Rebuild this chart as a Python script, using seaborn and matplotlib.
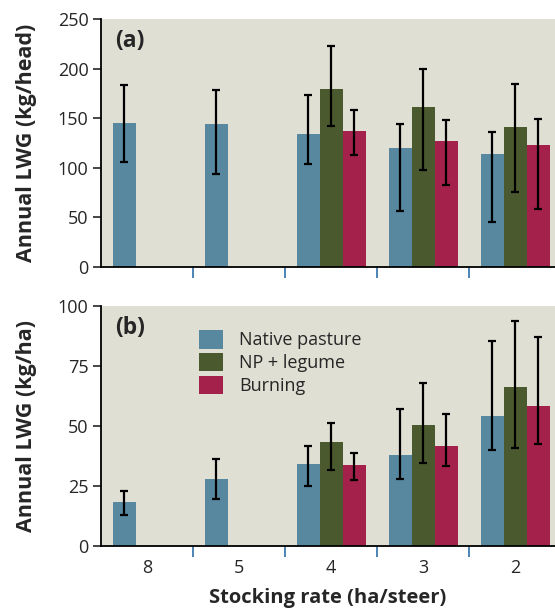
import matplotlib
matplotlib.use("Agg")
import matplotlib.pyplot as plt
import seaborn as sns
import numpy as np
import pandas as pd

sns.set_style("ticks")
plt.rcParams["font.family"] = ["Open Sans", "DejaVu Sans"]

# stocking rates (ha/steer) and treatments
rates = ["8", "5", "4", "3", "2"]
treatments = ["Native pasture", "NP + legume", "Burning"]
colors = ["#5788A0", "#4A5A2E", "#A3214B"]

# (a) annual LWG per head, with error bar low / high ends
head_native = [145, 144, 134, 120, 114]
head_native_lo = [106, 94, 104, 56, 45]
head_native_hi = [183, 178, 173, 144, 136]
head_legume = [np.nan, np.nan, 179, 161, 141]
head_legume_lo = [np.nan, np.nan, 142, 98, 76]
head_legume_hi = [np.nan, np.nan, 223, 200, 184]
head_burn = [np.nan, np.nan, 137, 127, 123]
head_burn_lo = [np.nan, np.nan, 113, 83, 58]
head_burn_hi = [np.nan, np.nan, 158, 148, 149]

# (b) annual LWG per hectare
ha_native = [18.3, 28, 34.2, 38, 54.2]
ha_native_lo = [12.9, 19.7, 25.1, 28, 40]
ha_native_hi = [23, 36.4, 41.8, 57.1, 85.5]
ha_legume = [np.nan, np.nan, 43.3, 50.4, 66.3]
ha_legume_lo = [np.nan, np.nan, 31.7, 34.6, 40.8]
ha_legume_hi = [np.nan, np.nan, 51.4, 67.9, 93.8]
ha_burn = [np.nan, np.nan, 33.8, 41.7, 58.3]
ha_burn_lo = [np.nan, np.nan, 27.5, 33.3, 42.5]
ha_burn_hi = [np.nan, np.nan, 38.6, 55, 87.1]


def make_frame(vals, los, his):
    rows = []
    for t, v, lo, hi in zip(treatments, vals, los, his):
        for r, a, b, c in zip(rates, v, lo, hi):
            if not np.isnan(a):
                rows.append({"rate": r, "treatment": t, "value": a, "lo": b, "hi": c})
    return pd.DataFrame(rows)


df_head = make_frame([head_native, head_legume, head_burn],
                     [head_native_lo, head_legume_lo, head_burn_lo],
                     [head_native_hi, head_legume_hi, head_burn_hi])
df_ha = make_frame([ha_native, ha_legume, ha_burn],
                   [ha_native_lo, ha_legume_lo, ha_burn_lo],
                   [ha_native_hi, ha_legume_hi, ha_burn_hi])


def draw_panel(ax, df, ylim, yticks, ylabel, tag, show_x):
    sns.barplot(data=df, x="rate", y="value", hue="treatment", order=rates,
                hue_order=treatments, palette=colors, width=0.75,
                errorbar=None, saturation=1, linewidth=0, ax=ax,
                legend=show_x)
    # asymmetric error bars at the bar centres
    for t, cont in zip(treatments, ax.containers):
        sub = df[df["treatment"] == t].copy()
        sub["pos"] = sub["rate"].map(rates.index)
        sub = sub.sort_values("pos")
        patches = sorted(cont.patches, key=lambda p: p.get_x())
        xs = [p.get_x() + p.get_width() / 2 for p in patches]
        v = sub["value"].values
        ax.errorbar(xs, v, yerr=[v - sub["lo"].values, sub["hi"].values - v],
                    fmt="none", ecolor="black", elinewidth=1.6,
                    capsize=2.6, capthick=1.6, zorder=5)
    ax.set_facecolor("#DFDFD4")
    ax.set_xlim(-0.5, 4.43)
    ax.set_ylim(*ylim)
    ax.set_yticks(yticks)
    ax.set_xticks(range(len(rates)))
    ax.set_xticks([0.5, 1.5, 2.5, 3.5], minor=True)
    ax.tick_params(axis="x", which="major", length=0, pad=9, labelsize=13)
    ax.tick_params(axis="x", which="minor", length=8, width=1.2,
                   color="#2F6FA8", direction="out")
    ax.tick_params(axis="y", length=6, width=1.2, labelsize=13, pad=3)
    if not show_x:
        ax.set_xticklabels([])
    ax.set_xlabel("")
    ax.set_ylabel(ylabel, fontsize=15.5, fontweight="bold")
    ax.yaxis.set_label_coords(-0.14, 0.5)
    for s in ["top", "right"]:
        ax.spines[s].set_visible(False)
    for s in ["left", "bottom"]:
        ax.spines[s].set_linewidth(1.3)
        ax.spines[s].set_color("black")
    ax.text(0.03, 0.96, tag, transform=ax.transAxes, fontsize=16.5,
            fontweight="bold", va="top", ha="left")


fig = plt.figure(figsize=(5.55, 6.1), dpi=100)
ax1 = fig.add_axes([0.182, 0.5623, 0.818, 0.4067])
ax2 = fig.add_axes([0.182, 0.1049, 0.818, 0.3935])

draw_panel(ax1, df_head, (0, 250), [0, 50, 100, 150, 200, 250],
           "Annual LWG (kg/head)", "(a)", False)
draw_panel(ax2, df_ha, (0, 100), [0, 25, 50, 75, 100],
           "Annual LWG (kg/ha)", "(b)", True)

ax2.set_xlabel("Stocking rate (ha/steer)", fontsize=14.5, fontweight="bold",
               labelpad=8)
ax2.legend(title=None, frameon=False, loc="upper left",
           bbox_to_anchor=(0.2, 0.93), fontsize=13, handlelength=1.3,
           handleheight=1.2, labelspacing=0.2, handletextpad=0.9,
           borderaxespad=0)

fig.savefig("out.png", dpi=100)
